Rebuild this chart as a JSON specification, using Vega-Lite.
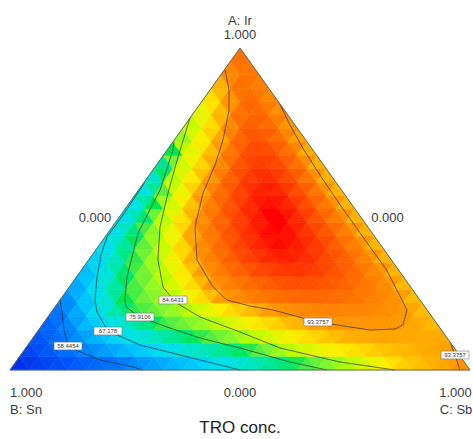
{
"$schema":"https://vega.github.io/schema/vega-lite/v6.json",
"width":473,"height":439,"padding":0,"autosize":{"type":"none"},"background":"white",
"config":{"view":{"stroke":null}},
"datasets":{
"cells":[
{"a":1,"c":1,"v":50.9},{"a":2,"c":2,"v":51.6},{"a":1,"c":4,"v":52.3},{"a":2,"c":5,"v":53.0},{"a":1,"c":7,"v":53.7},{"a":2,"c":8,"v":54.4},{"a":1,"c":10,"v":55.2},{"a":2,"c":11,"v":55.9},{"a":1,"c":13,"v":56.6},{"a":2,"c":14,"v":57.3},{"a":1,"c":16,"v":58.0},{"a":2,"c":17,"v":58.8},{"a":1,"c":19,"v":59.8},{"a":2,"c":20,"v":60.7},{"a":1,"c":22,"v":61.6},{"a":2,"c":23,"v":62.5},{"a":1,"c":25,"v":63.4},{"a":2,"c":26,"v":64.3},{"a":1,"c":28,"v":65.2},{"a":2,"c":29,"v":66.1},{"a":1,"c":31,"v":67.0},{"a":2,"c":32,"v":68.0},{"a":1,"c":34,"v":69.0},{"a":2,"c":35,"v":70.0},{"a":1,"c":37,"v":71.0},{"a":2,"c":38,"v":72.0},{"a":1,"c":40,"v":73.0},{"a":2,"c":41,"v":74.0},{"a":1,"c":43,"v":75.0},{"a":2,"c":44,"v":76.2},{"a":1,"c":46,"v":77.7},{"a":2,"c":47,"v":79.3},{"a":1,"c":49,"v":80.9},{"a":2,"c":50,"v":82.5},{"a":1,"c":52,"v":84.1},{"a":2,"c":53,"v":85.3},{"a":1,"c":55,"v":86.4},{"a":2,"c":56,"v":87.5},{"a":1,"c":58,"v":88.6},{"a":2,"c":59,"v":89.7},{"a":1,"c":61,"v":90.6},{"a":2,"c":62,"v":91.1},{"a":1,"c":64,"v":91.6},{"a":2,"c":65,"v":92.1},{"a":1,"c":67,"v":92.6},{"a":2,"c":68,"v":93.0},{"a":1,"c":70,"v":93.9},
{"a":4,"c":1,"v":52.8},{"a":5,"c":2,"v":53.9},{"a":4,"c":4,"v":55.0},{"a":5,"c":5,"v":56.1},{"a":4,"c":7,"v":57.2},{"a":5,"c":8,"v":58.3},{"a":4,"c":10,"v":59.3},{"a":5,"c":11,"v":60.3},{"a":4,"c":13,"v":61.4},{"a":5,"c":14,"v":62.4},{"a":4,"c":16,"v":63.5},{"a":5,"c":17,"v":64.5},{"a":4,"c":19,"v":65.5},{"a":5,"c":20,"v":66.5},{"a":4,"c":22,"v":67.6},{"a":5,"c":23,"v":68.5},{"a":4,"c":25,"v":69.5},{"a":5,"c":26,"v":70.4},{"a":4,"c":28,"v":71.4},{"a":5,"c":29,"v":72.4},{"a":4,"c":31,"v":73.3},{"a":5,"c":32,"v":74.3},{"a":4,"c":34,"v":75.2},{"a":5,"c":35,"v":76.5},{"a":4,"c":37,"v":78.5},{"a":5,"c":38,"v":80.5},{"a":4,"c":40,"v":82.6},{"a":5,"c":41,"v":84.6},{"a":4,"c":43,"v":85.5},{"a":5,"c":44,"v":86.4},{"a":4,"c":46,"v":87.3},{"a":5,"c":47,"v":88.2},{"a":4,"c":49,"v":88.8},{"a":5,"c":50,"v":89.3},{"a":4,"c":52,"v":89.8},{"a":5,"c":53,"v":90.2},{"a":4,"c":55,"v":90.7},{"a":5,"c":56,"v":91.1},{"a":4,"c":58,"v":91.4},{"a":5,"c":59,"v":91.7},{"a":4,"c":61,"v":92.0},{"a":5,"c":62,"v":92.3},{"a":4,"c":64,"v":92.6},{"a":5,"c":65,"v":92.9},{"a":4,"c":67,"v":93.3},
{"a":7,"c":1,"v":54.5},{"a":8,"c":2,"v":55.9},{"a":7,"c":4,"v":57.2},{"a":8,"c":5,"v":58.7},{"a":7,"c":7,"v":60.2},{"a":8,"c":8,"v":61.7},{"a":7,"c":10,"v":63.3},{"a":8,"c":11,"v":64.8},{"a":7,"c":13,"v":66.4},{"a":8,"c":14,"v":67.7},{"a":7,"c":16,"v":68.8},{"a":8,"c":17,"v":69.9},{"a":7,"c":19,"v":71.0},{"a":8,"c":20,"v":72.2},{"a":7,"c":22,"v":73.3},{"a":8,"c":23,"v":74.4},{"a":7,"c":25,"v":75.5},{"a":8,"c":26,"v":76.9},{"a":7,"c":28,"v":78.4},{"a":8,"c":29,"v":79.9},{"a":7,"c":31,"v":81.4},{"a":8,"c":32,"v":82.9},{"a":7,"c":34,"v":84.4},{"a":8,"c":35,"v":85.4},{"a":7,"c":37,"v":86.4},{"a":8,"c":38,"v":87.3},{"a":7,"c":40,"v":88.3},{"a":8,"c":41,"v":89.3},{"a":7,"c":43,"v":89.9},{"a":8,"c":44,"v":90.4},{"a":7,"c":46,"v":91.0},{"a":8,"c":47,"v":91.5},{"a":7,"c":49,"v":92.1},{"a":8,"c":50,"v":92.4},{"a":7,"c":52,"v":92.5},{"a":8,"c":53,"v":92.7},{"a":7,"c":55,"v":92.8},{"a":8,"c":56,"v":92.7},{"a":7,"c":58,"v":92.6},{"a":8,"c":59,"v":92.6},{"a":7,"c":61,"v":92.5},{"a":8,"c":62,"v":92.5},{"a":7,"c":64,"v":92.6},
{"a":10,"c":1,"v":56.2},{"a":11,"c":2,"v":57.6},{"a":10,"c":4,"v":59.3},{"a":11,"c":5,"v":61.4},{"a":10,"c":7,"v":63.5},{"a":11,"c":8,"v":65.6},{"a":10,"c":10,"v":67.6},{"a":11,"c":11,"v":69.2},{"a":10,"c":13,"v":70.7},{"a":11,"c":14,"v":72.3},{"a":10,"c":16,"v":73.9},{"a":11,"c":17,"v":75.5},{"a":10,"c":19,"v":77.0},{"a":11,"c":20,"v":78.4},{"a":10,"c":22,"v":79.8},{"a":11,"c":23,"v":81.2},{"a":10,"c":25,"v":82.6},{"a":11,"c":26,"v":83.9},{"a":10,"c":28,"v":85.2},{"a":11,"c":29,"v":86.2},{"a":10,"c":31,"v":87.3},{"a":11,"c":32,"v":88.4},{"a":10,"c":34,"v":89.4},{"a":11,"c":35,"v":90.1},{"a":10,"c":37,"v":90.7},{"a":11,"c":38,"v":91.4},{"a":10,"c":40,"v":92.0},{"a":11,"c":41,"v":92.5},{"a":10,"c":43,"v":93.0},{"a":11,"c":44,"v":93.45},{"a":10,"c":46,"v":93.6},{"a":11,"c":47,"v":93.7},{"a":10,"c":49,"v":93.8},{"a":11,"c":50,"v":93.8},{"a":10,"c":52,"v":93.7},{"a":11,"c":53,"v":93.6},{"a":10,"c":55,"v":93.5},{"a":11,"c":56,"v":93.4},{"a":10,"c":58,"v":92.8},{"a":11,"c":59,"v":92.3},{"a":10,"c":61,"v":91.7},
{"a":13,"c":1,"v":57.9},{"a":14,"c":2,"v":60.0},{"a":13,"c":4,"v":62.3},{"a":14,"c":5,"v":64.7},{"a":13,"c":7,"v":67.1},{"a":14,"c":8,"v":69.6},{"a":13,"c":10,"v":72.2},{"a":14,"c":11,"v":74.7},{"a":13,"c":13,"v":76.7},{"a":14,"c":14,"v":78.1},{"a":13,"c":16,"v":79.5},{"a":14,"c":17,"v":81.0},{"a":13,"c":19,"v":82.4},{"a":14,"c":20,"v":83.9},{"a":13,"c":22,"v":85.2},{"a":14,"c":23,"v":86.4},{"a":13,"c":25,"v":87.6},{"a":14,"c":26,"v":88.8},{"a":13,"c":28,"v":90.0},{"a":14,"c":29,"v":90.8},{"a":13,"c":31,"v":91.6},{"a":14,"c":32,"v":92.4},{"a":13,"c":34,"v":93.2},{"a":14,"c":35,"v":93.9},{"a":13,"c":37,"v":94.4},{"a":14,"c":38,"v":94.9},{"a":13,"c":40,"v":95.2},{"a":14,"c":41,"v":95.4},{"a":13,"c":43,"v":95.5},{"a":14,"c":44,"v":95.5},{"a":13,"c":46,"v":95.4},{"a":14,"c":47,"v":95.3},{"a":13,"c":49,"v":95.1},{"a":14,"c":50,"v":94.8},{"a":13,"c":52,"v":94.5},{"a":14,"c":53,"v":94.1},{"a":13,"c":55,"v":93.6},{"a":14,"c":56,"v":92.7},{"a":13,"c":58,"v":91.6},
{"a":16,"c":1,"v":60.1},{"a":17,"c":2,"v":62.6},{"a":16,"c":4,"v":65.0},{"a":17,"c":5,"v":67.4},{"a":16,"c":7,"v":70.2},{"a":17,"c":8,"v":73.0},{"a":16,"c":10,"v":75.8},{"a":17,"c":11,"v":77.7},{"a":16,"c":13,"v":79.6},{"a":17,"c":14,"v":81.4},{"a":16,"c":16,"v":83.3},{"a":17,"c":17,"v":85.1},{"a":16,"c":19,"v":86.7},{"a":17,"c":20,"v":88.2},{"a":16,"c":22,"v":89.9},{"a":17,"c":23,"v":91.4},{"a":16,"c":25,"v":93.0},{"a":17,"c":26,"v":94.1},{"a":16,"c":28,"v":94.9},{"a":17,"c":29,"v":95.7},{"a":16,"c":31,"v":96.3},{"a":17,"c":32,"v":96.8},{"a":16,"c":34,"v":97.2},{"a":17,"c":35,"v":97.5},{"a":16,"c":37,"v":97.7},{"a":17,"c":38,"v":97.8},{"a":16,"c":40,"v":97.8},{"a":17,"c":41,"v":97.7},{"a":16,"c":43,"v":97.4},{"a":17,"c":44,"v":97.1},{"a":16,"c":46,"v":96.7},{"a":17,"c":47,"v":96.2},{"a":16,"c":49,"v":95.6},{"a":17,"c":50,"v":94.9},{"a":16,"c":52,"v":94.1},{"a":17,"c":53,"v":93.1},{"a":16,"c":55,"v":91.7},
{"a":19,"c":1,"v":62.2},{"a":20,"c":2,"v":64.7},{"a":19,"c":4,"v":67.1},{"a":20,"c":5,"v":69.9},{"a":19,"c":7,"v":72.7},{"a":20,"c":8,"v":75.5},{"a":19,"c":10,"v":77.9},{"a":20,"c":11,"v":80.2},{"a":19,"c":13,"v":82.6},{"a":20,"c":14,"v":84.8},{"a":19,"c":16,"v":86.6},{"a":20,"c":17,"v":88.3},{"a":19,"c":19,"v":90.0},{"a":20,"c":20,"v":91.8},{"a":19,"c":22,"v":93.5},{"a":20,"c":23,"v":94.7},{"a":19,"c":25,"v":95.8},{"a":20,"c":26,"v":96.7},{"a":19,"c":28,"v":97.6},{"a":20,"c":29,"v":98.2},{"a":19,"c":31,"v":98.7},{"a":20,"c":32,"v":99.1},{"a":19,"c":34,"v":99.4},{"a":20,"c":35,"v":99.5},{"a":19,"c":37,"v":99.5},{"a":20,"c":38,"v":99.3},{"a":19,"c":40,"v":99.0},{"a":20,"c":41,"v":98.6},{"a":19,"c":43,"v":98.1},{"a":20,"c":44,"v":97.4},{"a":19,"c":46,"v":96.6},{"a":20,"c":47,"v":95.7},{"a":19,"c":49,"v":94.6},{"a":20,"c":50,"v":93.4},{"a":19,"c":52,"v":91.8},
{"a":22,"c":1,"v":64.2},{"a":23,"c":2,"v":66.6},{"a":22,"c":4,"v":69.3},{"a":23,"c":5,"v":72.1},{"a":22,"c":7,"v":74.8},{"a":23,"c":8,"v":77.5},{"a":22,"c":10,"v":80.3},{"a":23,"c":11,"v":82.9},{"a":22,"c":13,"v":85.4},{"a":23,"c":14,"v":87.3},{"a":22,"c":16,"v":89.3},{"a":23,"c":17,"v":91.2},{"a":22,"c":19,"v":93.2},{"a":23,"c":20,"v":94.7},{"a":22,"c":22,"v":96.1},{"a":23,"c":23,"v":97.3},{"a":22,"c":25,"v":98.3},{"a":23,"c":26,"v":99.1},{"a":22,"c":28,"v":99.8},{"a":23,"c":29,"v":100.3},{"a":22,"c":31,"v":100.6},{"a":23,"c":32,"v":100.8},{"a":22,"c":34,"v":100.8},{"a":23,"c":35,"v":100.6},{"a":22,"c":37,"v":100.3},{"a":23,"c":38,"v":99.8},{"a":22,"c":40,"v":99.2},{"a":23,"c":41,"v":98.4},{"a":22,"c":43,"v":97.5},{"a":23,"c":44,"v":96.4},{"a":22,"c":46,"v":95.1},{"a":23,"c":47,"v":93.8},{"a":22,"c":49,"v":92.0},
{"a":25,"c":1,"v":66.1},{"a":26,"c":2,"v":68.6},{"a":25,"c":4,"v":71.2},{"a":26,"c":5,"v":73.9},{"a":25,"c":7,"v":76.7},{"a":26,"c":8,"v":79.9},{"a":25,"c":10,"v":83.1},{"a":26,"c":11,"v":85.8},{"a":25,"c":13,"v":88.0},{"a":26,"c":14,"v":90.1},{"a":25,"c":16,"v":92.3},{"a":26,"c":17,"v":94.3},{"a":25,"c":19,"v":95.8},{"a":26,"c":20,"v":97.2},{"a":25,"c":22,"v":98.5},{"a":26,"c":23,"v":99.5},{"a":25,"c":25,"v":100.3},{"a":26,"c":26,"v":100.9},{"a":25,"c":28,"v":101.3},{"a":26,"c":29,"v":101.6},{"a":25,"c":31,"v":101.6},{"a":26,"c":32,"v":101.5},{"a":25,"c":34,"v":101.1},{"a":26,"c":35,"v":100.6},{"a":25,"c":37,"v":99.9},{"a":26,"c":38,"v":99.1},{"a":25,"c":40,"v":98.0},{"a":26,"c":41,"v":96.8},{"a":25,"c":43,"v":95.4},{"a":26,"c":44,"v":93.8},{"a":25,"c":46,"v":92.0},
{"a":28,"c":1,"v":67.3},{"a":29,"c":2,"v":70.1},{"a":28,"c":4,"v":72.9},{"a":29,"c":5,"v":75.6},{"a":28,"c":7,"v":79.1},{"a":29,"c":8,"v":82.6},{"a":28,"c":10,"v":85.6},{"a":29,"c":11,"v":87.9},{"a":28,"c":13,"v":90.2},{"a":29,"c":14,"v":92.5},{"a":28,"c":16,"v":94.5},{"a":29,"c":17,"v":96.2},{"a":28,"c":19,"v":97.7},{"a":29,"c":20,"v":99.0},{"a":28,"c":22,"v":100.0},{"a":29,"c":23,"v":100.9},{"a":28,"c":25,"v":101.5},{"a":29,"c":26,"v":101.8},{"a":28,"c":28,"v":102.0},{"a":29,"c":29,"v":101.9},{"a":28,"c":31,"v":101.7},{"a":29,"c":32,"v":101.2},{"a":28,"c":34,"v":100.5},{"a":29,"c":35,"v":99.6},{"a":28,"c":37,"v":98.4},{"a":29,"c":38,"v":97.1},{"a":28,"c":40,"v":95.6},{"a":29,"c":41,"v":93.8},{"a":28,"c":43,"v":91.9},
{"a":31,"c":1,"v":68.0},{"a":32,"c":2,"v":71.1},{"a":31,"c":4,"v":74.2},{"a":32,"c":5,"v":77.8},{"a":31,"c":7,"v":81.9},{"a":32,"c":8,"v":85.5},{"a":31,"c":10,"v":87.9},{"a":32,"c":11,"v":90.2},{"a":31,"c":13,"v":92.6},{"a":32,"c":14,"v":94.7},{"a":31,"c":16,"v":96.5},{"a":32,"c":17,"v":98.0},{"a":31,"c":19,"v":99.3},{"a":32,"c":20,"v":100.4},{"a":31,"c":22,"v":101.2},{"a":32,"c":23,"v":101.7},{"a":31,"c":25,"v":102.0},{"a":32,"c":26,"v":102.1},{"a":31,"c":28,"v":101.9},{"a":32,"c":29,"v":101.5},{"a":31,"c":31,"v":100.8},{"a":32,"c":32,"v":99.9},{"a":31,"c":34,"v":98.8},{"a":32,"c":35,"v":97.4},{"a":31,"c":37,"v":95.7},{"a":32,"c":38,"v":93.9},{"a":31,"c":40,"v":92.0},
{"a":34,"c":1,"v":68.1},{"a":35,"c":2,"v":71.5},{"a":34,"c":4,"v":74.9},{"a":35,"c":5,"v":79.7},{"a":34,"c":7,"v":84.8},{"a":35,"c":8,"v":87.2},{"a":34,"c":10,"v":89.6},{"a":35,"c":11,"v":92.0},{"a":34,"c":13,"v":94.3},{"a":35,"c":14,"v":96.2},{"a":34,"c":16,"v":97.9},{"a":35,"c":17,"v":99.3},{"a":34,"c":19,"v":100.4},{"a":35,"c":20,"v":101.3},{"a":34,"c":22,"v":101.8},{"a":35,"c":23,"v":102.1},{"a":34,"c":25,"v":102.1},{"a":35,"c":26,"v":101.8},{"a":34,"c":28,"v":101.2},{"a":35,"c":29,"v":100.3},{"a":34,"c":31,"v":99.1},{"a":35,"c":32,"v":97.7},{"a":34,"c":34,"v":95.9},{"a":35,"c":35,"v":93.9},{"a":34,"c":37,"v":92.0},
{"a":37,"c":1,"v":68.4},{"a":38,"c":2,"v":72.2},{"a":37,"c":4,"v":75.9},{"a":38,"c":5,"v":82.8},{"a":37,"c":7,"v":86.4},{"a":38,"c":8,"v":88.8},{"a":37,"c":10,"v":91.2},{"a":38,"c":11,"v":93.6},{"a":37,"c":13,"v":95.7},{"a":38,"c":14,"v":97.6},{"a":37,"c":16,"v":99.1},{"a":38,"c":17,"v":100.3},{"a":37,"c":19,"v":101.2},{"a":38,"c":20,"v":101.7},{"a":37,"c":22,"v":101.9},{"a":38,"c":23,"v":101.8},{"a":37,"c":25,"v":101.3},{"a":38,"c":26,"v":100.5},{"a":37,"c":28,"v":99.4},{"a":38,"c":29,"v":98.0},{"a":37,"c":31,"v":96.2},{"a":38,"c":32,"v":94.1},{"a":37,"c":34,"v":92.0},
{"a":40,"c":1,"v":68.8},{"a":41,"c":2,"v":73.0},{"a":40,"c":4,"v":78.8},{"a":41,"c":5,"v":85.6},{"a":40,"c":7,"v":87.9},{"a":41,"c":8,"v":90.3},{"a":40,"c":10,"v":92.6},{"a":41,"c":11,"v":95.0},{"a":40,"c":13,"v":97.1},{"a":41,"c":14,"v":98.8},{"a":40,"c":16,"v":100.1},{"a":41,"c":17,"v":101.0},{"a":40,"c":19,"v":101.5},{"a":41,"c":20,"v":101.6},{"a":40,"c":22,"v":101.3},{"a":41,"c":23,"v":100.7},{"a":40,"c":25,"v":99.6},{"a":41,"c":26,"v":98.2},{"a":40,"c":28,"v":96.4},{"a":41,"c":29,"v":94.2},{"a":40,"c":31,"v":92.0},
{"a":43,"c":1,"v":70.8},{"a":44,"c":2,"v":75.3},{"a":43,"c":4,"v":84.6},{"a":44,"c":5,"v":86.9},{"a":43,"c":7,"v":89.1},{"a":44,"c":8,"v":91.3},{"a":43,"c":10,"v":93.5},{"a":44,"c":11,"v":96.1},{"a":43,"c":13,"v":98.1},{"a":44,"c":14,"v":99.5},{"a":43,"c":16,"v":100.5},{"a":44,"c":17,"v":101.0},{"a":43,"c":19,"v":101.1},{"a":44,"c":20,"v":100.6},{"a":43,"c":22,"v":99.7},{"a":44,"c":23,"v":98.4},{"a":43,"c":25,"v":96.6},{"a":44,"c":26,"v":94.4},{"a":43,"c":28,"v":92.1},
{"a":46,"c":1,"v":73.4},{"a":47,"c":2,"v":80.3},{"a":46,"c":4,"v":86.0},{"a":47,"c":5,"v":88.1},{"a":46,"c":7,"v":90.2},{"a":47,"c":8,"v":92.3},{"a":46,"c":10,"v":94.8},{"a":47,"c":11,"v":97.2},{"a":46,"c":13,"v":99.0},{"a":47,"c":14,"v":100.0},{"a":46,"c":16,"v":100.5},{"a":47,"c":17,"v":100.3},{"a":46,"c":19,"v":99.7},{"a":47,"c":20,"v":98.5},{"a":46,"c":22,"v":96.8},{"a":47,"c":23,"v":94.5},{"a":46,"c":25,"v":92.1},
{"a":49,"c":1,"v":75.8},{"a":50,"c":2,"v":85.1},{"a":49,"c":4,"v":87.2},{"a":50,"c":5,"v":89.3},{"a":49,"c":7,"v":91.4},{"a":50,"c":8,"v":93.5},{"a":49,"c":10,"v":96.4},{"a":50,"c":11,"v":98.3},{"a":49,"c":13,"v":99.5},{"a":50,"c":14,"v":99.8},{"a":49,"c":16,"v":99.4},{"a":50,"c":17,"v":98.5},{"a":49,"c":19,"v":97.0},{"a":50,"c":20,"v":94.9},{"a":49,"c":22,"v":92.3},
{"a":52,"c":1,"v":82.6},{"a":53,"c":2,"v":86.3},{"a":52,"c":4,"v":88.4},{"a":53,"c":5,"v":90.5},{"a":52,"c":7,"v":92.7},{"a":53,"c":8,"v":95.5},{"a":52,"c":10,"v":97.7},{"a":53,"c":11,"v":98.8},{"a":52,"c":13,"v":98.9},{"a":53,"c":14,"v":98.4},{"a":52,"c":16,"v":97.2},{"a":53,"c":17,"v":95.4},{"a":52,"c":19,"v":92.9},
{"a":55,"c":1,"v":85.4},{"a":56,"c":2,"v":87.6},{"a":55,"c":4,"v":89.8},{"a":56,"c":5,"v":92.0},{"a":55,"c":7,"v":94.7},{"a":56,"c":8,"v":97.2},{"a":55,"c":10,"v":98.3},{"a":56,"c":11,"v":98.1},{"a":55,"c":13,"v":97.3},{"a":56,"c":14,"v":95.9},{"a":55,"c":16,"v":93.8},
{"a":58,"c":1,"v":87.4},{"a":59,"c":2,"v":89.5},{"a":58,"c":4,"v":91.6},{"a":59,"c":5,"v":93.9},{"a":58,"c":7,"v":96.7},{"a":59,"c":8,"v":97.7},{"a":58,"c":10,"v":97.3},{"a":59,"c":11,"v":96.2},{"a":58,"c":13,"v":94.3},
{"a":61,"c":1,"v":89.8},{"a":62,"c":2,"v":91.7},{"a":61,"c":4,"v":94.0},{"a":62,"c":5,"v":96.7},{"a":61,"c":7,"v":97.3},{"a":62,"c":8,"v":96.6},{"a":61,"c":10,"v":95.0},
{"a":64,"c":1,"v":92.2},{"a":65,"c":2,"v":94.7},{"a":64,"c":4,"v":96.9},{"a":65,"c":5,"v":96.8},{"a":64,"c":7,"v":95.7},
{"a":67,"c":1,"v":95.0},{"a":68,"c":2,"v":96.7},{"a":67,"c":4,"v":96.3},
{"a":70,"c":1,"v":97.0}
],
"lines":[
{"g":"c58","i":0,"ir":0.2174,"sb":0},{"g":"c58","i":1,"ir":0.1801,"sb":0.023},{"g":"c58","i":2,"ir":0.1242,"sb":0.0553},{"g":"c58","i":3,"ir":0.0745,"sb":0.0888},{"g":"c58","i":4,"ir":0.059,"sb":0.1183},{"g":"c58","i":5,"ir":0.0311,"sb":0.1801},{"g":"c58","i":6,"ir":0.0093,"sb":0.2628},{"g":"c58","i":7,"ir":0,"sb":0.2891},
{"g":"c67","i":0,"ir":0.5839,"sb":0.0016},{"g":"c67","i":1,"ir":0.528,"sb":0.0034},{"g":"c67","i":2,"ir":0.4814,"sb":0.005},{"g":"c67","i":3,"ir":0.413,"sb":0.0044},{"g":"c67","i":4,"ir":0.3571,"sb":0.0193},{"g":"c67","i":5,"ir":0.2888,"sb":0.0447},{"g":"c67","i":6,"ir":0.2174,"sb":0.0761},{"g":"c67","i":7,"ir":0.1801,"sb":0.0991},{"g":"c67","i":8,"ir":0.1211,"sb":0.1525},{"g":"c67","i":9,"ir":0.0776,"sb":0.2438},{"g":"c67","i":10,"ir":0.0311,"sb":0.3975},{"g":"c67","i":11,"ir":0,"sb":0.5},
{"g":"c75","i":0,"ir":0.7081,"sb":0.0025},{"g":"c75","i":1,"ir":0.6832,"sb":0.0127},{"g":"c75","i":2,"ir":0.559,"sb":0.0466},{"g":"c75","i":3,"ir":0.4255,"sb":0.0656},{"g":"c75","i":4,"ir":0.2888,"sb":0.1099},{"g":"c75","i":5,"ir":0.2174,"sb":0.1413},{"g":"c75","i":6,"ir":0.1957,"sb":0.1544},{"g":"c75","i":7,"ir":0.1646,"sb":0.2003},{"g":"c75","i":8,"ir":0.1335,"sb":0.2746},{"g":"c75","i":9,"ir":0.0994,"sb":0.3633},{"g":"c75","i":10,"ir":0.0683,"sb":0.4659},{"g":"c75","i":11,"ir":0.0248,"sb":0.5963},{"g":"c75","i":12,"ir":0,"sb":0.6891},
{"g":"c84","i":0,"ir":0.7826,"sb":0},{"g":"c84","i":1,"ir":0.6615,"sb":0.0345},{"g":"c84","i":2,"ir":0.5497,"sb":0.0686},{"g":"c84","i":3,"ir":0.4441,"sb":0.104},{"g":"c84","i":4,"ir":0.3416,"sb":0.1509},{"g":"c84","i":5,"ir":0.2578,"sb":0.2037},{"g":"c84","i":6,"ir":0.2112,"sb":0.2531},{"g":"c84","i":7,"ir":0.1646,"sb":0.3307},{"g":"c84","i":8,"ir":0.118,"sb":0.441},{"g":"c84","i":9,"ir":0.0683,"sb":0.5528},{"g":"c84","i":10,"ir":0.0248,"sb":0.705},{"g":"c84","i":11,"ir":0,"sb":0.837},
{"g":"c93","i":0,"ir":0.9317,"sb":0.0016},{"g":"c93","i":1,"ir":0.8696,"sb":0.0413},{"g":"c93","i":2,"ir":0.8075,"sb":0.0724},{"g":"c93","i":3,"ir":0.7143,"sb":0.1059},{"g":"c93","i":4,"ir":0.6366,"sb":0.1274},{"g":"c93","i":5,"ir":0.5497,"sb":0.1448},{"g":"c93","i":6,"ir":0.4441,"sb":0.1801},{"g":"c93","i":7,"ir":0.3416,"sb":0.2357},{"g":"c93","i":8,"ir":0.2578,"sb":0.3124},{"g":"c93","i":9,"ir":0.2174,"sb":0.363},{"g":"c93","i":10,"ir":0.1988,"sb":0.4223},{"g":"c93","i":11,"ir":0.1863,"sb":0.4786},{"g":"c93","i":12,"ir":0.1491,"sb":0.595},{"g":"c93","i":13,"ir":0.1242,"sb":0.7205},{"g":"c93","i":14,"ir":0.1273,"sb":0.7733},{"g":"c93","i":15,"ir":0.1398,"sb":0.7844},{"g":"c93","i":16,"ir":0.1863,"sb":0.7699},{"g":"c93","i":17,"ir":0.2329,"sb":0.7301},{"g":"c93","i":18,"ir":0.3106,"sb":0.6634},{"g":"c93","i":19,"ir":0.4037,"sb":0.5701},{"g":"c93","i":20,"ir":0.4969,"sb":0.477},{"g":"c93","i":21,"ir":0.5901,"sb":0.386},{"g":"c93","i":22,"ir":0.6832,"sb":0.2973},{"g":"c93","i":23,"ir":0.7609,"sb":0.2282},{"g":"c93","i":24,"ir":0.8292,"sb":0.1708},
{"g":"c93b","i":0,"ir":0.087,"sb":0.913},{"g":"c93b","i":1,"ir":0.0466,"sb":0.9441},{"g":"c93b","i":2,"ir":0,"sb":0.9783}
],
"edge":[{"i":0,"ir":0,"sb":0},{"i":1,"ir":1,"sb":0},{"i":2,"ir":0,"sb":1},{"i":3,"ir":0,"sb":0}],
"labels":[
{"t":"58.4454","u":0.1261,"v":0.0745},{"t":"67.178","u":0.213,"v":0.1211},{"t":"75.9106","u":0.2826,"v":0.1646},{"t":"84.6431","u":0.3543,"v":0.2174},{"t":"93.3757","u":0.6696,"v":0.1491},{"t":"93.3757","u":0.9674,"v":0.0466}
],
"notes":[
{"t":"A: Ir","u":0.5,"v":1.0839},{"t":"1.000","u":0.5,"v":1.0404},{"t":"0.000","u":0.1848,"v":0.472},{"t":"0.000","u":0.8207,"v":0.472},{"t":"1.000","u":0.0354,"v":-0.0714},{"t":"B: Sn","u":0.0348,"v":-0.1242},{"t":"0.000","u":0.5,"v":-0.0714},{"t":"1.000","u":0.9685,"v":-0.0714},{"t":"C: Sb","u":0.9696,"v":-0.1242}
],
"title":[{"t":"TRO conc.","u":0.5,"v":-0.181}]
},
"layer":[
{"data":{"name":"cells"},
 "transform":[{"calculate":"(datum.c + datum.a/2)/72","as":"x"},{"calculate":"(floor(datum.a/3)+0.5)/24","as":"y"},{"calculate":"datum.a % 3 == 1 ? 'up' : 'down'","as":"o"}],
 "mark":{"type":"point","filled":true,"opacity":1,"size":367.4,"strokeWidth":0.6},
 "encoding":{
  "x":{"field":"x","type":"quantitative","scale":{"domain":[-0.021739,1.006522],"nice":false,"zero":false},"axis":null},
  "y":{"field":"y","type":"quantitative","scale":{"domain":[-0.214286,1.149068],"nice":false,"zero":false},"axis":null},
  "shape":{"field":"o","type":"nominal","scale":{"domain":["up","down"],"range":["M0,-0.7L1,0.7L-1,0.7Z","M-1,-0.7L1,-0.7L0,0.7Z"]},"legend":null},
  "fill":{"field":"v","type":"quantitative","scale":{"domain":[49.7,58.44,67.18,75.91,84.64,89.0,93.37,102.1],"range":["#0a1ee6","#0078ff","#00dcf0","#00e650","#b4ff00","#ffee00","#ff9900","#ff0000"],"clamp":true},"legend":null},
  "stroke":{"field":"v","type":"quantitative","scale":{"domain":[49.7,58.44,67.18,75.91,84.64,89.0,93.37,102.1],"range":["#0a1ee6","#0078ff","#00dcf0","#00e650","#b4ff00","#ffee00","#ff9900","#ff0000"],"clamp":true},"legend":null}
 }},
{"data":{"name":"lines"},
 "transform":[{"calculate":"datum.sb + datum.ir/2","as":"x"},{"calculate":"datum.ir","as":"y"}],
 "mark":{"type":"line","stroke":"#2a2a2a","strokeWidth":0.8,"strokeOpacity":0.85},
 "encoding":{
  "x":{"field":"x","type":"quantitative","scale":{"domain":[-0.021739,1.006522],"nice":false,"zero":false},"axis":null},
  "y":{"field":"y","type":"quantitative","scale":{"domain":[-0.214286,1.149068],"nice":false,"zero":false},"axis":null},
  "detail":{"field":"g","type":"nominal"},
  "order":{"field":"i","type":"quantitative"}
 }},
{"data":{"name":"edge"},
 "transform":[{"calculate":"datum.sb + datum.ir/2","as":"x"},{"calculate":"datum.ir","as":"y"}],
 "mark":{"type":"line","stroke":"#666666","strokeWidth":1,"strokeJoin":"miter"},
 "encoding":{
  "x":{"field":"x","type":"quantitative","scale":{"domain":[-0.021739,1.006522],"nice":false,"zero":false},"axis":null},
  "y":{"field":"y","type":"quantitative","scale":{"domain":[-0.214286,1.149068],"nice":false,"zero":false},"axis":null},
  "order":{"field":"i","type":"quantitative"}
 }},
{"data":{"name":"labels"},
 "mark":{"type":"point","shape":"M-1,-0.28L1,-0.28L1,0.28L-1,0.28Z","filled":true,"fill":"white","stroke":"#777777","strokeWidth":0.6,"opacity":1,"size":784},
 "encoding":{
  "x":{"field":"u","type":"quantitative","scale":{"domain":[-0.021739,1.006522],"nice":false,"zero":false},"axis":null},
  "y":{"field":"v","type":"quantitative","scale":{"domain":[-0.214286,1.149068],"nice":false,"zero":false},"axis":null}
 }},
{"data":{"name":"labels"},
 "mark":{"type":"text","font":"Liberation Sans","fontSize":6,"fill":"#333333","align":"center","baseline":"middle"},
 "encoding":{
  "x":{"field":"u","type":"quantitative","scale":{"domain":[-0.021739,1.006522],"nice":false,"zero":false},"axis":null},
  "y":{"field":"v","type":"quantitative","scale":{"domain":[-0.214286,1.149068],"nice":false,"zero":false},"axis":null},
  "text":{"field":"t","type":"nominal"}
 }},
{"data":{"name":"notes"},
 "mark":{"type":"text","font":"Liberation Sans","fontSize":13,"fill":"#3c3c3c","align":"center","baseline":"middle"},
 "encoding":{
  "x":{"field":"u","type":"quantitative","scale":{"domain":[-0.021739,1.006522],"nice":false,"zero":false},"axis":null},
  "y":{"field":"v","type":"quantitative","scale":{"domain":[-0.214286,1.149068],"nice":false,"zero":false},"axis":null},
  "text":{"field":"t","type":"nominal"}
 }},
{"data":{"name":"title"},
 "mark":{"type":"text","font":"Liberation Sans","fontSize":17,"fill":"#222222","align":"center","baseline":"middle"},
 "encoding":{
  "x":{"field":"u","type":"quantitative","scale":{"domain":[-0.021739,1.006522],"nice":false,"zero":false},"axis":null},
  "y":{"field":"v","type":"quantitative","scale":{"domain":[-0.214286,1.149068],"nice":false,"zero":false},"axis":null},
  "text":{"field":"t","type":"nominal"}
 }}
]
}
